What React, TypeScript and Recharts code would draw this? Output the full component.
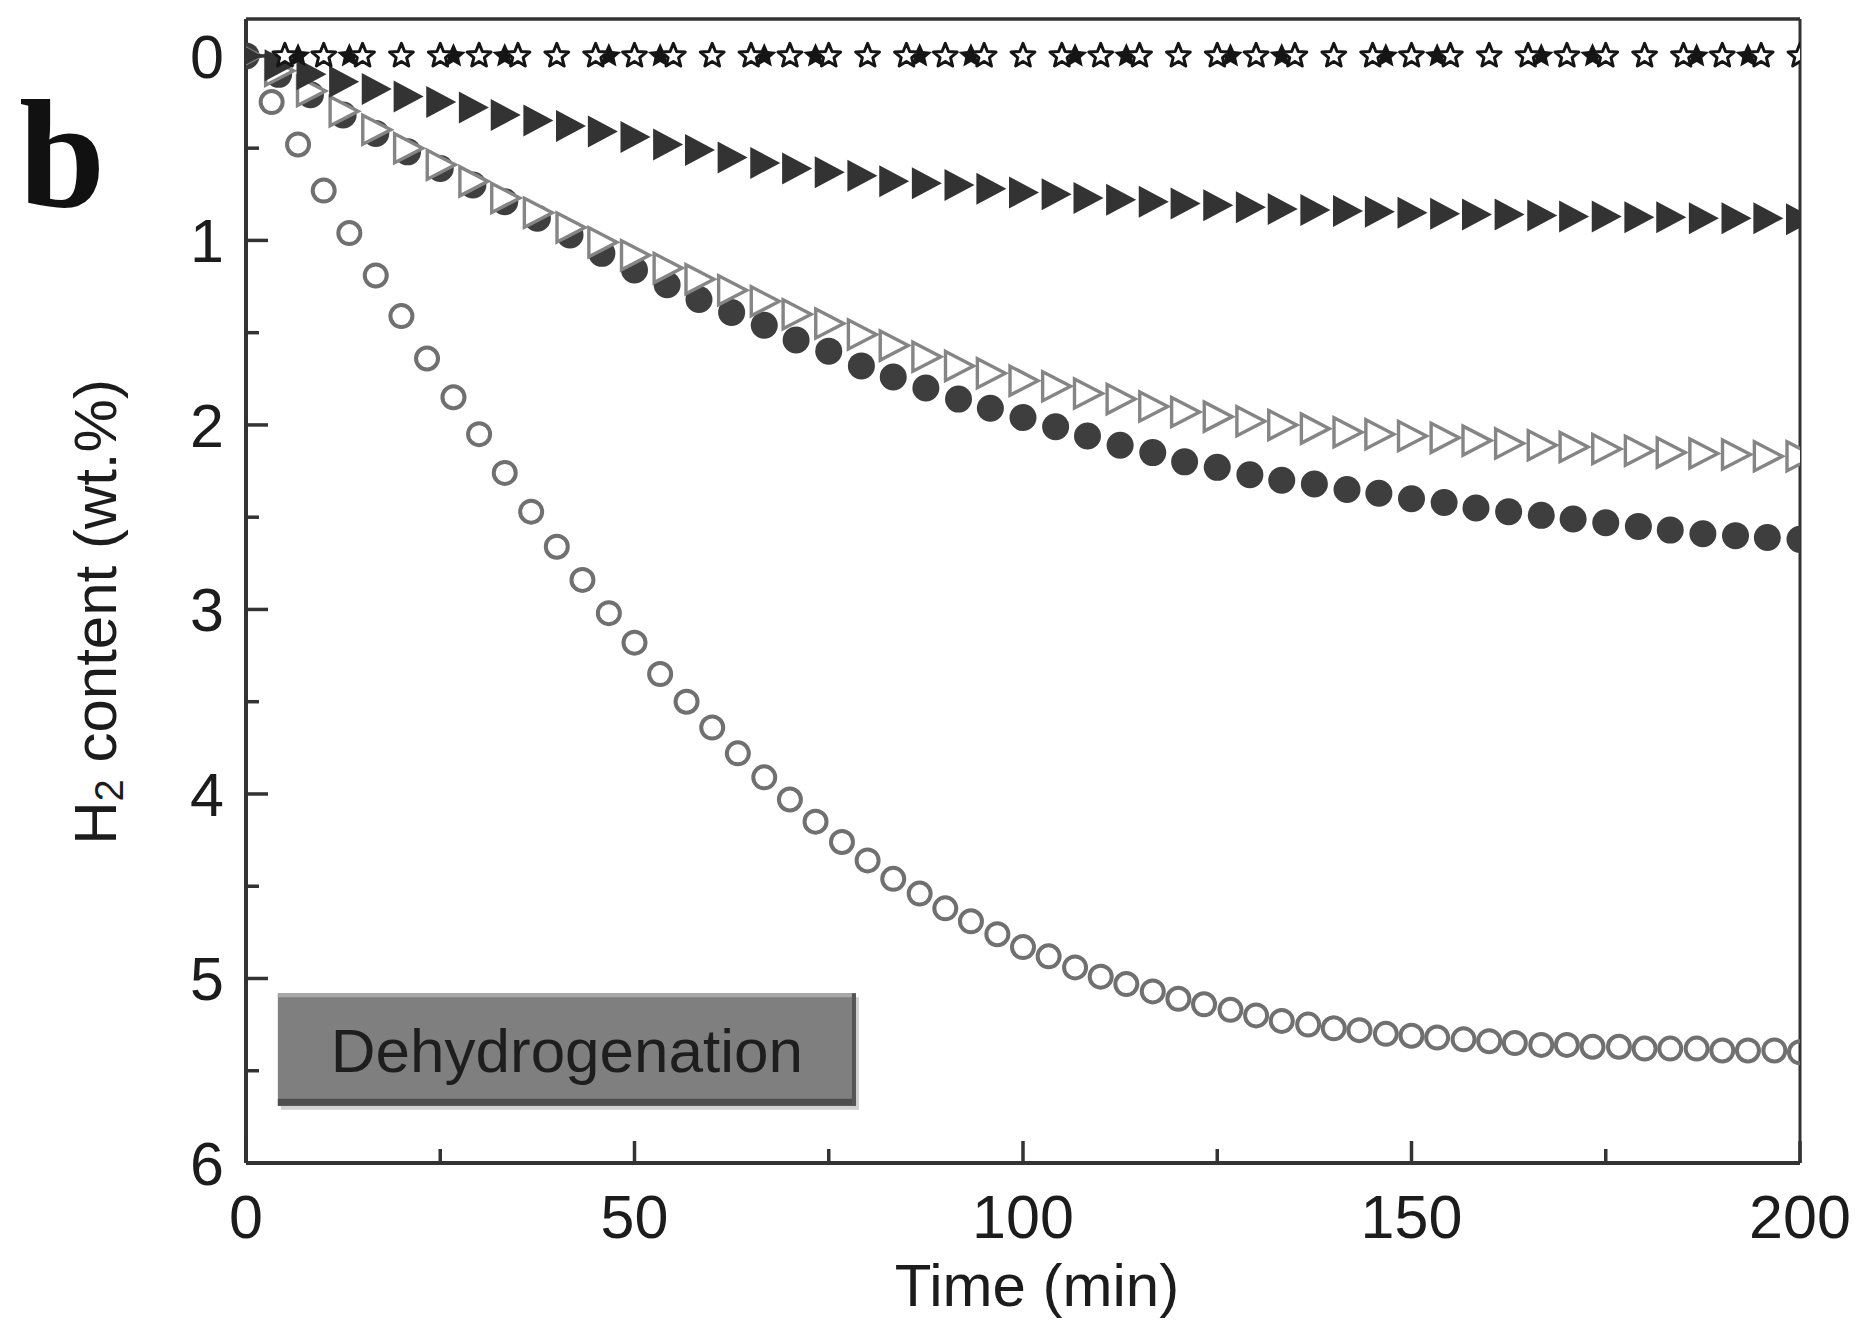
import React from "react";
import { ScatterChart, Scatter, XAxis, YAxis, ReferenceLine, ReferenceArea } from "recharts";

// tick values
const xTicks = [0, 25, 50, 75, 100, 125, 150, 175, 200];
const yTicks = [0, 0.5, 1, 1.5, 2, 2.5, 3, 3.5, 4, 4.5, 5, 5.5, 6];

// sample times (min)
const circleTimes = [
  3.3, 6.7, 10, 13.3, 16.7, 20, 23.3, 26.7, 30, 33.3, 36.7, 40, 43.3, 46.7, 50, 53.3, 56.7, 60, 63.3, 66.7,
  70, 73.3, 76.7, 80, 83.3, 86.7, 90, 93.3, 96.7, 100, 103.3, 106.7, 110, 113.3, 116.7, 120, 123.3, 126.7, 130, 133.3,
  136.7, 140, 143.3, 146.7, 150, 153.3, 156.7, 160, 163.3, 166.7, 170, 173.3, 176.7, 180, 183.3, 186.7, 190, 193.3, 196.7, 200,
];
const triTimes = [
  0, 4.2, 8.3, 12.5, 16.7, 20.8, 25, 29.2, 33.3, 37.5, 41.7, 45.8, 50, 54.2, 58.3, 62.5, 66.7, 70.8, 75, 79.2,
  83.3, 87.5, 91.7, 95.8, 100, 104.2, 108.3, 112.5, 116.7, 120.8, 125, 129.2, 133.3, 137.5, 141.7, 145.8, 150, 154.2, 158.3, 162.5,
  166.7, 170.8, 175, 179.2, 183.3, 187.5, 191.7, 195.8, 200,
];
const openStarTimes = [
  5, 10, 15, 20, 25, 30, 35, 40, 45, 50, 55, 60, 65, 70, 75, 80, 85, 90, 95, 100,
  105, 110, 115, 120, 125, 130, 135, 140, 145, 150, 155, 160, 165, 170, 175, 180, 185, 190, 195, 200,
];
const filledStarTimes = [
  6.7, 13.3, 20, 26.7, 33.3, 40, 46.7, 53.3, 60, 66.7, 73.3, 80, 86.7, 93.3, 100,
  106.7, 113.3, 120, 126.7, 133.3, 140, 146.7, 153.3, 160, 166.7, 173.3, 180, 186.7, 193.3, 200,
];

// H2 content (wt.%)
const openCircleValues = [
  0.25, 0.48, 0.73, 0.96, 1.19, 1.41, 1.64, 1.85, 2.05, 2.26, 2.47, 2.66, 2.84, 3.02, 3.18, 3.35, 3.5, 3.64, 3.78, 3.91,
  4.03, 4.15, 4.26, 4.36, 4.46, 4.54, 4.62, 4.69, 4.76, 4.83, 4.88, 4.94, 4.99, 5.03, 5.07, 5.11, 5.14, 5.17, 5.2, 5.23,
  5.25, 5.27, 5.28, 5.3, 5.31, 5.32, 5.33, 5.34, 5.35, 5.36, 5.36, 5.37, 5.37, 5.38, 5.38, 5.38, 5.39, 5.39, 5.39, 5.4,
];
const filledCircleValues = [
  0, 0.1, 0.21, 0.32, 0.42, 0.52, 0.61, 0.7, 0.79, 0.88, 0.97, 1.07, 1.16, 1.24, 1.32, 1.39, 1.46, 1.54, 1.6, 1.68,
  1.74, 1.8, 1.86, 1.91, 1.96, 2.01, 2.06, 2.11, 2.15, 2.2, 2.23, 2.27, 2.3, 2.32, 2.35, 2.37, 2.4, 2.42, 2.45, 2.47,
  2.49, 2.51, 2.53, 2.55, 2.57, 2.59, 2.6, 2.61, 2.62,
];
const openTriValues = [
  0, 0.08, 0.19, 0.3, 0.4, 0.5, 0.59, 0.68, 0.77, 0.85, 0.93, 1.01, 1.08, 1.15, 1.21, 1.27, 1.33, 1.4, 1.45, 1.51,
  1.57, 1.63, 1.68, 1.72, 1.76, 1.79, 1.83, 1.86, 1.9, 1.93, 1.955, 1.98, 2.0, 2.02, 2.04, 2.05, 2.06, 2.07, 2.085, 2.1,
  2.11, 2.12, 2.13, 2.14, 2.15, 2.155, 2.16, 2.17, 2.17,
];
const filledTriValues = [
  0, 0.05, 0.1, 0.14, 0.18, 0.22, 0.25, 0.28, 0.32, 0.35, 0.38, 0.41, 0.44, 0.48, 0.51, 0.55, 0.58, 0.61, 0.63, 0.65,
  0.68, 0.69, 0.7, 0.72, 0.74, 0.75, 0.77, 0.78, 0.79, 0.8, 0.81, 0.82, 0.83, 0.835, 0.84, 0.845, 0.85, 0.855, 0.86, 0.86,
  0.865, 0.87, 0.87, 0.875, 0.875, 0.88, 0.88, 0.88, 0.885,
];
const openStarValues = [
  0, 0, 0, 0, 0, 0, 0, 0, 0, 0, 0, 0, 0, 0, 0, 0, 0, 0, 0, 0,
  0, 0, 0, 0, 0, 0, 0, 0, 0, 0, 0, 0, 0, 0, 0, 0, 0, 0, 0, 0,
];
const filledStarValues = [
  0, 0, 0, 0, 0, 0, 0, 0, 0, 0, 0, 0, 0, 0, 0,
  0, 0, 0, 0, 0, 0, 0, 0, 0, 0, 0, 0, 0, 0, 0,
];

const toPoints = (ts: number[], vs: number[]) => ts.map((t, i) => ({ t, v: vs[i] }));

const FONT = "'Liberation Sans', Arial, sans-serif";
const INK = "#1c1c1c";
const AXIS = "#333";

const starPath = (cx: number, cy: number, R: number, r: number) => {
  const pts: string[] = [];
  for (let i = 0; i < 10; i++) {
    const rad = i % 2 === 0 ? R : r;
    const a = -Math.PI / 2 + (i * Math.PI) / 5;
    pts.push(`${cx + rad * Math.cos(a)},${cy + rad * Math.sin(a)}`);
  }
  return pts.join(" ");
};

const OpenStar = ({ cx, cy }: any) => (
  <polygon points={starPath(cx, cy, 12.5, 5.5)} fill="#fff" stroke="#151515" strokeWidth={3} strokeLinejoin="round" />
);
const FilledStar = ({ cx, cy }: any) => <polygon points={starPath(cx, cy, 13, 6)} fill="#151515" />;
const FilledTri = ({ cx, cy }: any) => (
  <polygon points={`${cx - 14},${cy - 16} ${cx + 16},${cy} ${cx - 14},${cy + 16}`} fill="#333" />
);
const OpenTri = ({ cx, cy }: any) => (
  <polygon
    points={`${cx - 13},${cy - 14.5} ${cx + 15},${cy} ${cx - 13},${cy + 14.5}`}
    fill="#fff"
    stroke="#858585"
    strokeWidth={3.4}
    strokeLinejoin="miter"
  />
);
const FilledCircle = ({ cx, cy }: any) => <circle cx={cx} cy={cy} r={13.5} fill="#3e3e3e" />;
const OpenCircle = ({ cx, cy }: any) => (
  <circle cx={cx} cy={cy} r={11} fill="none" stroke="#707070" strokeWidth={4} />
);

const XTick = ({ x, y, payload }: any) => {
  const major = payload.value % 50 === 0;
  return (
    <g>
      <line x1={x} y1={y} x2={x} y2={y - (major ? 22 : 14)} stroke={AXIS} strokeWidth={3.5} />
      {major && (
        <text x={x} y={y + 75} textAnchor="middle" fontFamily={FONT} fontSize={61} fill={INK}>
          {payload.value}
        </text>
      )}
    </g>
  );
};

const YTick = ({ x, y, payload }: any) => {
  const major = payload.value % 1 === 0;
  return (
    <g>
      <line x1={x} y1={y} x2={x + (major ? 22 : 13)} y2={y} stroke={AXIS} strokeWidth={3.5} />
      {major && (
        <text x={x - 22} y={y + 22} textAnchor="end" fontFamily={FONT} fontSize={61} fill={INK}>
          {payload.value}
        </text>
      )}
    </g>
  );
};

const XTitle = ({ viewBox }: any) => (
  <text x={viewBox.x + viewBox.width / 2 + 14} y={1306} textAnchor="middle" fontFamily={FONT} fontSize={60} fill={INK}>
    Time (min)
  </text>
);

const YTitle = () => (
  <text
    x={95}
    y={612}
    transform="rotate(-90, 95, 612)"
    textAnchor="middle"
    dominantBaseline="central"
    fontFamily={FONT}
    fontSize={60}
    fill={INK}
  >
    H<tspan fontSize={40} dy={14}>2</tspan>
    <tspan dy={-14}> content (wt.%)</tspan>
  </text>
);

const LabelBox = ({ x, y, width, height }: any) => (
  <g>
    <rect x={x + 3} y={y + 4} width={width} height={height} fill="#d0d0d0" />
    <rect x={x} y={y} width={width} height={height} fill="#7f7f7f" />
    <rect x={x} y={y} width={width} height={4} fill="#a8a8a8" />
    <rect x={x} y={y + height - 7} width={width} height={7} fill="#4d4d4d" />
    <rect x={x + width - 4} y={y} width={4} height={height} fill="#555" />
  </g>
);

const BoxText = ({ viewBox }: any) => (
  <text
    x={viewBox.x + viewBox.width / 2}
    y={viewBox.y + viewBox.height / 2 + 22}
    textAnchor="middle"
    fontFamily={FONT}
    fontSize={62}
    fill="#1e1e1e"
  >
    Dehydrogenation
  </text>
);

export default function App() {
  return (
    <div style={{ position: "absolute", left: 0, top: 0, width: 1858, height: 1333, background: "#fff" }}>
      <svg style={{ position: "absolute", left: 0, top: 0 }} width={200} height={260}>
        <text x={19} y={207} fontFamily="'Liberation Serif', 'Times New Roman', serif" fontWeight="bold" fontSize={155} fill="#111">
          b
        </text>
      </svg>
      <ScatterChart width={1858} height={1333} margin={{ top: 19, right: 58, left: 186, bottom: 110 }}>
        <XAxis
          type="number"
          dataKey="t"
          domain={[0, 200]}
          ticks={xTicks}
          interval={0}
          allowDataOverflow
          height={60}
          tickSize={0}
          tickMargin={0}
          tickLine={false}
          axisLine={{ stroke: AXIS, strokeWidth: 4 }}
          tick={<XTick />}
          label={{ content: <XTitle /> }}
        />
        <YAxis
          type="number"
          dataKey="v"
          domain={[-0.2, 6]}
          reversed
          ticks={yTicks}
          interval={0}
          allowDataOverflow
          width={60}
          tickSize={0}
          tickMargin={0}
          tickLine={false}
          axisLine={{ stroke: AXIS, strokeWidth: 4 }}
          tick={<YTick />}
          label={{ content: <YTitle /> }}
        />
        <ReferenceLine y={-0.2} stroke={AXIS} strokeWidth={3.5} />
        <ReferenceLine x={200} stroke={AXIS} strokeWidth={3} />
        <ReferenceArea x1={4.1} x2={78.5} y1={5.08} y2={5.69} shape={<LabelBox />} label={{ content: <BoxText /> }} />
        <Scatter data={toPoints(circleTimes, openCircleValues)} shape={<OpenCircle />} isAnimationActive={false} />
        <Scatter data={toPoints(triTimes, filledCircleValues)} shape={<FilledCircle />} isAnimationActive={false} />
        <Scatter data={toPoints(triTimes, openTriValues)} shape={<OpenTri />} isAnimationActive={false} />
        <Scatter data={toPoints(triTimes, filledTriValues)} shape={<FilledTri />} isAnimationActive={false} />
        <Scatter data={toPoints(filledStarTimes, filledStarValues)} shape={<FilledStar />} isAnimationActive={false} />
        <Scatter data={toPoints(openStarTimes, openStarValues)} shape={<OpenStar />} isAnimationActive={false} />
      </ScatterChart>
    </div>
  );
}
